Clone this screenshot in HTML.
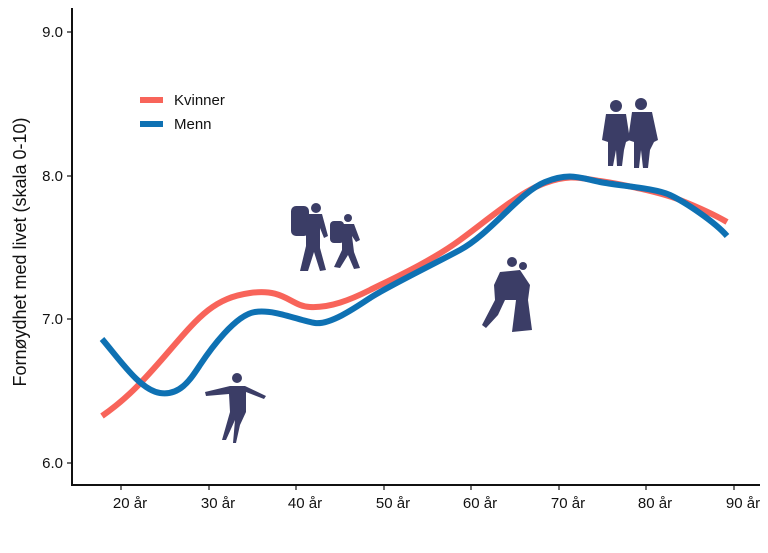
<!DOCTYPE html>
<html><head><style>
body{margin:0;background:#fff;}
svg text{font-family:"Liberation Sans",sans-serif;fill:#111;}
</style></head><body>
<svg width="768" height="548" viewBox="0 0 768 548">
<g stroke="#111" stroke-width="2" fill="none">
<line x1="72" y1="8" x2="72" y2="485"/>
<line x1="71" y1="485" x2="760" y2="485"/>
</g>
<g stroke="#111" stroke-width="1.2">
<line x1="67" y1="32" x2="72" y2="32"/><line x1="67" y1="176" x2="72" y2="176"/>
<line x1="67" y1="319" x2="72" y2="319"/><line x1="67" y1="463" x2="72" y2="463"/>
<line x1="121" y1="485" x2="121" y2="490"/><line x1="209" y1="485" x2="209" y2="490"/>
<line x1="296" y1="485" x2="296" y2="490"/><line x1="384" y1="485" x2="384" y2="490"/>
<line x1="471" y1="485" x2="471" y2="490"/><line x1="559" y1="485" x2="559" y2="490"/>
<line x1="646" y1="485" x2="646" y2="490"/><line x1="734" y1="485" x2="734" y2="490"/>
</g>
<g font-size="15" text-anchor="end">
<text x="63" y="37">9.0</text><text x="63" y="181">8.0</text>
<text x="63" y="324">7.0</text><text x="63" y="468">6.0</text>
</g>
<g font-size="15" text-anchor="middle">
<text x="130" y="508">20 år</text><text x="218" y="508">30 år</text>
<text x="305" y="508">40 år</text><text x="393" y="508">50 år</text>
<text x="480" y="508">60 år</text><text x="568" y="508">70 år</text>
<text x="655" y="508">80 år</text><text x="743" y="508">90 år</text>
</g>
<text font-size="18" text-anchor="middle" transform="translate(26,252) rotate(-90)">Fornøydhet med livet (skala 0-10)</text>
<g fill="none" stroke-width="6" stroke-linecap="butt">
<path stroke="#f8645a" d="M102,416 C125,400 140,385 170,350 S215,298 250,293 S290,306 310,307 S350,300 370,290 S430,262 460,240 S520,192 545,183 S580,178 600,181 S660,192 680,200 S715,215 727,222"/>
<path stroke="#0e71b3" d="M102,339 C120,360 140,390 160,393 S190,380 200,365 S235,315 255,312 S300,321 315,323 S355,308 370,298 S430,266 460,250 S520,192 545,182 S580,178 600,182 S655,188 670,195 S715,222 727,236"/>
</g>
<line x1="140" y1="100" x2="163" y2="100" stroke="#f8645a" stroke-width="6"/>
<line x1="140" y1="124" x2="163" y2="124" stroke="#0e71b3" stroke-width="6"/>
<text x="174" y="105" font-size="15">Kvinner</text>
<text x="174" y="129" font-size="15">Menn</text>
<g fill="#3b3d66">
<circle cx="237" cy="378" r="5"/>
<path d="M205,392 L230,386 L245,386 L266,396 L264,399 L246,392 L246,412 L240,425 L236,443 L233,443 L235,420 L226,440 L222,440 L230,412 L229,394 L206,396 Z"/>
<circle cx="316" cy="208" r="5"/>
<rect x="291" y="206" width="18" height="30" rx="5"/>
<path d="M307,214 L322,214 L328,236 L324,238 L320,228 L320,248 L326,270 L320,271 L314,252 L308,271 L300,271 L306,246 L306,222 Z"/>
<circle cx="348" cy="218" r="4"/>
<rect x="330" y="221" width="14" height="22" rx="4"/>
<path d="M343,224 L354,224 L360,240 L356,242 L352,236 L354,252 L360,268 L354,269 L348,255 L340,268 L334,267 L342,250 L342,230 Z"/>
<circle cx="512" cy="262" r="5"/>
<circle cx="523" cy="266" r="4"/>
<path d="M500,272 L520,270 L530,285 L528,300 L532,330 L512,332 L516,300 L505,300 L498,315 L486,328 L482,325 L495,300 L494,285 Z"/>
<circle cx="616" cy="106" r="6"/>
<circle cx="641" cy="104" r="6"/>
<path d="M606,114 L626,114 L630,140 L626,142 L624,150 L622,166 L617,166 L616,150 L613,166 L608,166 L608,142 L602,140 Z"/>
<path d="M632,112 L652,112 L658,140 L654,142 L650,150 L648,168 L643,168 L641,150 L639,168 L634,168 L634,142 L628,140 Z"/>
</g>
</svg>
</body></html>
